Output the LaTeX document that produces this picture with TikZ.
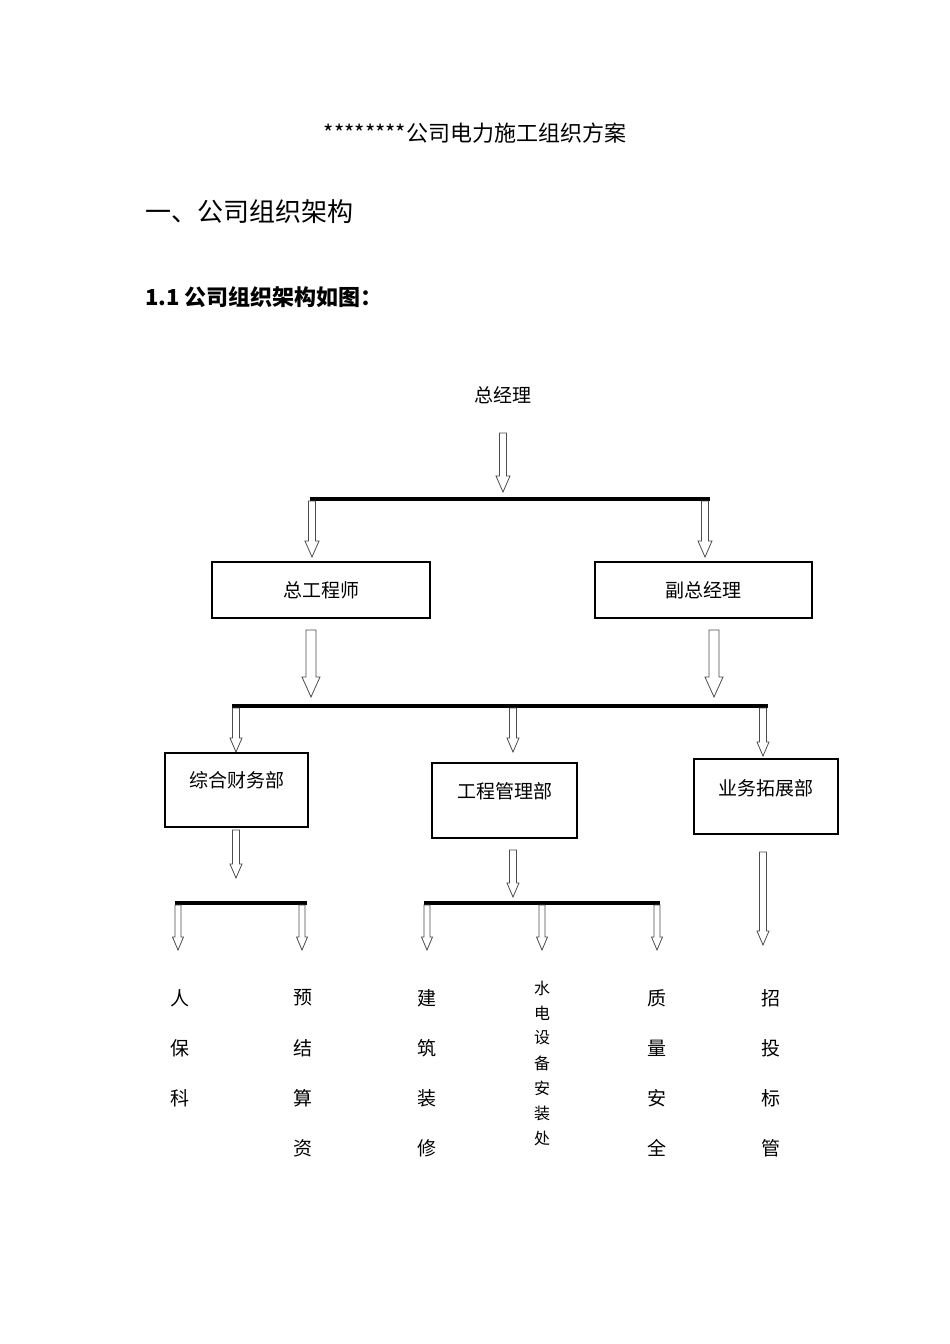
\documentclass[tikz,border=0pt]{standalone}
\usepackage{fontspec}
\setmainfont{Noto Sans CJK SC}
\begin{document}
\begin{tikzpicture}[x=1pt,y=-1pt,
  lbl/.style={inner sep=0pt,font=\fontsize{19}{19}\selectfont},
  box/.style={draw,line width=1.8pt,minimum width=#1,anchor=north west,inner sep=0pt},
  bar/.style={line width=3.5pt},
  vt/.style={inner sep=0pt,font=\fontsize{19}{19}\selectfont}]
\useasboundingbox (0,0) rectangle (950,1344);
\newcommand\blkarrow[6]{% x, y1, y2, half shaft, half head, head length
  \draw[line width=0.8pt,gray!60!black,fill=white] (#1-#4,#2) -- (#1-#4,#3-#6) -- (#1-#5,#3-#6) -- (#1,#3) -- (#1+#5,#3-#6) -- (#1+#4,#3-#6) -- (#1+#4,#2) -- cycle;}
\node[inner sep=0pt,font=\fontsize{22}{22}\selectfont] (title) at (475,133) {********公司电力施工组织方案};
\node[inner sep=0pt,anchor=west,font=\fontsize{26}{26}\selectfont] (h1) at (145,212) {一、公司组织架构};
\node[inner sep=0pt,anchor=west,font=\fontsize{22}{22}\selectfont\bfseries] (h2) at (145,297) {1.1 公司组织架构如图：};
\node[lbl] (gm) at (503,395) {总经理};
\blkarrow{503}{433}{492}{3.5}{7}{16}
\draw[bar] (310,499) -- (710,499);
\blkarrow{312}{501}{557}{3.5}{7}{16}
\blkarrow{705}{501}{557}{3.5}{7}{16}
\draw[line width=1.8pt] (212,562) rectangle (430,618);
\node[lbl] (ce) at (321,590) {总工程师};
\draw[line width=1.8pt] (595,562) rectangle (812,618);
\node[lbl] (vgm) at (703,590) {副总经理};
\blkarrow{311}{630}{697}{5}{9}{20}
\blkarrow{714}{630}{697}{5}{9}{20}
\draw[bar] (232,706) -- (768,706);
\blkarrow{236}{708}{752}{3.5}{6}{14}
\blkarrow{513}{708}{752}{3.5}{6}{14}
\blkarrow{763}{708}{756}{3.5}{6}{14}
\draw[line width=1.8pt] (165,753) rectangle (308,827);
\node[lbl] (fin) at (237,780) {综合财务部};
\draw[line width=1.8pt] (432,763) rectangle (577,838);
\node[lbl] (eng) at (505,791) {工程管理部};
\draw[line width=1.8pt] (694,759) rectangle (838,834);
\node[lbl] (biz) at (766,788) {业务拓展部};
\blkarrow{236}{830}{878}{3.5}{6}{14}
\blkarrow{513}{850}{897}{3.5}{6}{14}
\blkarrow{763}{852}{945}{3.5}{6}{14}
\draw[bar] (175,903) -- (307,903);
\draw[bar] (424,903) -- (660,903);
\foreach \x in {178,302,427,542,657}{\blkarrow{\x}{905}{950}{3}{5.5}{13}}
\foreach \t [count=\i] in {人,保,科}{\node[vt] (a\i) at (180,{948+50*\i}) {\t};}
\foreach \t [count=\i] in {预,结,算,资}{\node[vt] (b\i) at (303,{948+50*\i}) {\t};}
\foreach \t [count=\i] in {建,筑,装,修}{\node[vt] (c\i) at (427,{948+50*\i}) {\t};}
\foreach \t [count=\i] in {水,电,设,备,安,装,处}{\node[inner sep=0pt,font=\fontsize{16}{16}\selectfont] (d\i) at (542,{963+25*\i}) {\t};}
\foreach \t [count=\i] in {质,量,安,全}{\node[vt] (e\i) at (657,{948+50*\i}) {\t};}
\foreach \t [count=\i] in {招,投,标,管}{\node[vt] (f\i) at (771,{948+50*\i}) {\t};}
\end{tikzpicture}
\end{document}
